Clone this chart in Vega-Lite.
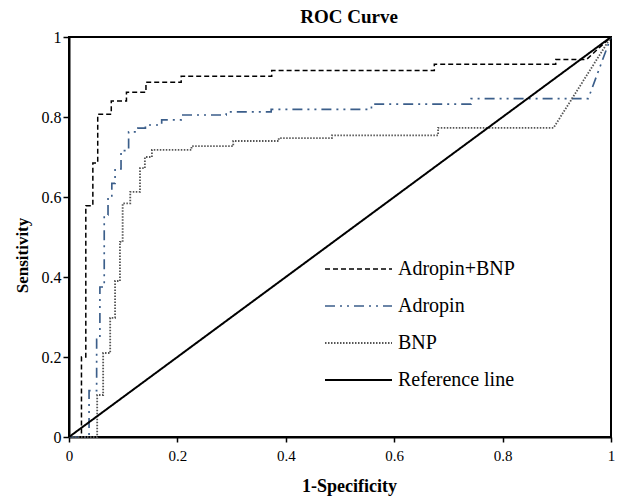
{
  "$schema": "https://vega.github.io/schema/vega-lite/v6.json",
  "width": 542,
  "height": 400,
  "autosize": {"type": "none"},
  "padding": {"left": 69, "top": 37, "right": 6, "bottom": 59},
  "background": "white",
  "title": {"text": "ROC Curve", "font": "Liberation Serif", "fontSize": 19, "fontWeight": "bold", "color": "black", "anchor": "middle", "frame": "group", "dx": 9, "offset": 2},
  "data": {"values": [
    {"s":"Adropin+BNP","i":0,"x":0,"y":0},
    {"s":"Adropin+BNP","i":1,"x":0.023,"y":0},
    {"s":"Adropin+BNP","i":2,"x":0.023,"y":0.2},
    {"s":"Adropin+BNP","i":3,"x":0.031,"y":0.2},
    {"s":"Adropin+BNP","i":4,"x":0.031,"y":0.578},
    {"s":"Adropin+BNP","i":5,"x":0.044,"y":0.578},
    {"s":"Adropin+BNP","i":6,"x":0.044,"y":0.685},
    {"s":"Adropin+BNP","i":7,"x":0.053,"y":0.685},
    {"s":"Adropin+BNP","i":8,"x":0.053,"y":0.807},
    {"s":"Adropin+BNP","i":9,"x":0.078,"y":0.807},
    {"s":"Adropin+BNP","i":10,"x":0.078,"y":0.84},
    {"s":"Adropin+BNP","i":11,"x":0.106,"y":0.84},
    {"s":"Adropin+BNP","i":12,"x":0.106,"y":0.862},
    {"s":"Adropin+BNP","i":13,"x":0.142,"y":0.862},
    {"s":"Adropin+BNP","i":14,"x":0.142,"y":0.887},
    {"s":"Adropin+BNP","i":15,"x":0.207,"y":0.887},
    {"s":"Adropin+BNP","i":16,"x":0.207,"y":0.902},
    {"s":"Adropin+BNP","i":17,"x":0.374,"y":0.902},
    {"s":"Adropin+BNP","i":18,"x":0.374,"y":0.916},
    {"s":"Adropin+BNP","i":19,"x":0.674,"y":0.916},
    {"s":"Adropin+BNP","i":20,"x":0.674,"y":0.932},
    {"s":"Adropin+BNP","i":21,"x":0.898,"y":0.932},
    {"s":"Adropin+BNP","i":22,"x":0.898,"y":0.944},
    {"s":"Adropin+BNP","i":23,"x":0.955,"y":0.944},
    {"s":"Adropin+BNP","i":24,"x":1,"y":1},
    {"s":"Adropin","i":0,"x":0,"y":0},
    {"s":"Adropin","i":1,"x":0.037,"y":0},
    {"s":"Adropin","i":2,"x":0.037,"y":0.116},
    {"s":"Adropin","i":3,"x":0.051,"y":0.116},
    {"s":"Adropin","i":4,"x":0.051,"y":0.244},
    {"s":"Adropin","i":5,"x":0.057,"y":0.244},
    {"s":"Adropin","i":6,"x":0.057,"y":0.375},
    {"s":"Adropin","i":7,"x":0.065,"y":0.375},
    {"s":"Adropin","i":8,"x":0.065,"y":0.555},
    {"s":"Adropin","i":9,"x":0.072,"y":0.555},
    {"s":"Adropin","i":10,"x":0.072,"y":0.6},
    {"s":"Adropin","i":11,"x":0.079,"y":0.6},
    {"s":"Adropin","i":12,"x":0.079,"y":0.634},
    {"s":"Adropin","i":13,"x":0.085,"y":0.634},
    {"s":"Adropin","i":14,"x":0.085,"y":0.67},
    {"s":"Adropin","i":15,"x":0.096,"y":0.67},
    {"s":"Adropin","i":16,"x":0.096,"y":0.716},
    {"s":"Adropin","i":17,"x":0.11,"y":0.716},
    {"s":"Adropin","i":18,"x":0.11,"y":0.763},
    {"s":"Adropin","i":19,"x":0.127,"y":0.763},
    {"s":"Adropin","i":20,"x":0.127,"y":0.772},
    {"s":"Adropin","i":21,"x":0.141,"y":0.772},
    {"s":"Adropin","i":22,"x":0.141,"y":0.78},
    {"s":"Adropin","i":23,"x":0.171,"y":0.78},
    {"s":"Adropin","i":24,"x":0.171,"y":0.793},
    {"s":"Adropin","i":25,"x":0.207,"y":0.793},
    {"s":"Adropin","i":26,"x":0.207,"y":0.805},
    {"s":"Adropin","i":27,"x":0.29,"y":0.805},
    {"s":"Adropin","i":28,"x":0.29,"y":0.813},
    {"s":"Adropin","i":29,"x":0.373,"y":0.813},
    {"s":"Adropin","i":30,"x":0.373,"y":0.819},
    {"s":"Adropin","i":31,"x":0.558,"y":0.819},
    {"s":"Adropin","i":32,"x":0.558,"y":0.832},
    {"s":"Adropin","i":33,"x":0.742,"y":0.832},
    {"s":"Adropin","i":34,"x":0.742,"y":0.846},
    {"s":"Adropin","i":35,"x":0.958,"y":0.846},
    {"s":"Adropin","i":36,"x":1,"y":1},
    {"s":"BNP","i":0,"x":0,"y":0},
    {"s":"BNP","i":1,"x":0.052,"y":0},
    {"s":"BNP","i":2,"x":0.052,"y":0.105},
    {"s":"BNP","i":3,"x":0.063,"y":0.105},
    {"s":"BNP","i":4,"x":0.063,"y":0.21},
    {"s":"BNP","i":5,"x":0.076,"y":0.21},
    {"s":"BNP","i":6,"x":0.076,"y":0.298},
    {"s":"BNP","i":7,"x":0.085,"y":0.298},
    {"s":"BNP","i":8,"x":0.085,"y":0.39},
    {"s":"BNP","i":9,"x":0.094,"y":0.39},
    {"s":"BNP","i":10,"x":0.094,"y":0.488},
    {"s":"BNP","i":11,"x":0.099,"y":0.488},
    {"s":"BNP","i":12,"x":0.099,"y":0.584},
    {"s":"BNP","i":13,"x":0.113,"y":0.584},
    {"s":"BNP","i":14,"x":0.113,"y":0.613},
    {"s":"BNP","i":15,"x":0.131,"y":0.613},
    {"s":"BNP","i":16,"x":0.131,"y":0.672},
    {"s":"BNP","i":17,"x":0.14,"y":0.672},
    {"s":"BNP","i":18,"x":0.14,"y":0.7},
    {"s":"BNP","i":19,"x":0.153,"y":0.7},
    {"s":"BNP","i":20,"x":0.153,"y":0.718},
    {"s":"BNP","i":21,"x":0.226,"y":0.718},
    {"s":"BNP","i":22,"x":0.226,"y":0.727},
    {"s":"BNP","i":23,"x":0.303,"y":0.727},
    {"s":"BNP","i":24,"x":0.303,"y":0.74},
    {"s":"BNP","i":25,"x":0.387,"y":0.74},
    {"s":"BNP","i":26,"x":0.387,"y":0.747},
    {"s":"BNP","i":27,"x":0.485,"y":0.747},
    {"s":"BNP","i":28,"x":0.485,"y":0.754},
    {"s":"BNP","i":29,"x":0.681,"y":0.754},
    {"s":"BNP","i":30,"x":0.681,"y":0.773},
    {"s":"BNP","i":31,"x":0.894,"y":0.773},
    {"s":"BNP","i":32,"x":1,"y":1},
    {"s":"Reference line","i":0,"x":0,"y":0},
    {"s":"Reference line","i":1,"x":1,"y":1}
  ]},
  "mark": {"type": "line", "interpolate": "linear", "clip": false},
  "encoding": {
    "x": {"field": "x", "type": "quantitative",
      "scale": {"domain": [0, 1], "nice": false, "zero": false},
      "axis": {"values": [0, 0.2, 0.4, 0.6, 0.8, 1], "format": "~g", "title": "1-Specificity", "grid": false,
        "labelFlush": false, "labelFont": "Liberation Serif", "labelFontSize": 15, "labelColor": "black",
        "labelPadding": 6, "tickSize": 5, "tickWidth": 1.5, "tickColor": "black",
        "domainColor": "black", "domainWidth": 2,
        "titleFont": "Liberation Serif", "titleFontSize": 18, "titleFontWeight": "bold", "titleColor": "black",
        "titleX": 280, "titleY": 54, "titleBaseline": "alphabetic"}},
    "y": {"field": "y", "type": "quantitative",
      "scale": {"domain": [0, 1], "nice": false, "zero": false},
      "axis": {"values": [0, 0.2, 0.4, 0.6, 0.8, 1], "format": "~g", "title": "Sensitivity", "grid": false,
        "labelFlush": false, "labelFont": "Liberation Serif", "labelFontSize": 16, "labelColor": "black",
        "labelPadding": 2, "tickSize": 6, "tickWidth": 1.5, "tickColor": "black",
        "domainColor": "black", "domainWidth": 2,
        "titleFont": "Liberation Serif", "titleFontSize": 17, "titleFontWeight": "bold", "titleColor": "black",
        "titleX": -42, "titleY": 218, "titleBaseline": "alphabetic"}},
    "order": {"field": "i", "type": "quantitative"},
    "color": {"field": "s", "type": "nominal",
      "scale": {"domain": ["Adropin+BNP", "Adropin", "BNP", "Reference line"], "range": ["#000000", "#3b5e8a", "#555555", "#000000"]},
      "legend": {"title": null, "orient": "none", "legendX": 255, "legendY": 221,
        "symbolType": "stroke", "symbolSize": 4489, "symbolStrokeWidth": 1.6, "clipHeight": 22, "rowPadding": 15,
        "labelFont": "Liberation Serif", "labelFontSize": 20, "labelColor": "black", "labelOffset": 5, "labelLimit": 300}},
    "strokeDash": {"field": "s", "type": "nominal",
      "scale": {"domain": ["Adropin+BNP", "Adropin", "BNP", "Reference line"], "range": [[5, 3], [10, 5, 2, 5, 2, 5], [1.5, 1.5], [1, 0]]},
      "legend": {"title": null, "orient": "none", "legendX": 255, "legendY": 221,
        "symbolType": "stroke", "symbolSize": 4489, "symbolStrokeWidth": 1.6, "clipHeight": 22, "rowPadding": 15,
        "labelFont": "Liberation Serif", "labelFontSize": 20, "labelColor": "black", "labelOffset": 5, "labelLimit": 300}},
    "strokeWidth": {"field": "s", "type": "nominal",
      "scale": {"domain": ["Adropin+BNP", "Adropin", "BNP", "Reference line"], "range": [1.5, 2, 1.5, 2.2]},
      "legend": null}
  },
  "config": {
    "font": "Liberation Serif",
    "view": {"stroke": "black", "strokeWidth": 2},
    "legend": {"labelFont": "Liberation Serif"},
    "axis": {"labelFont": "Liberation Serif", "titleFont": "Liberation Serif"}
  }
}
